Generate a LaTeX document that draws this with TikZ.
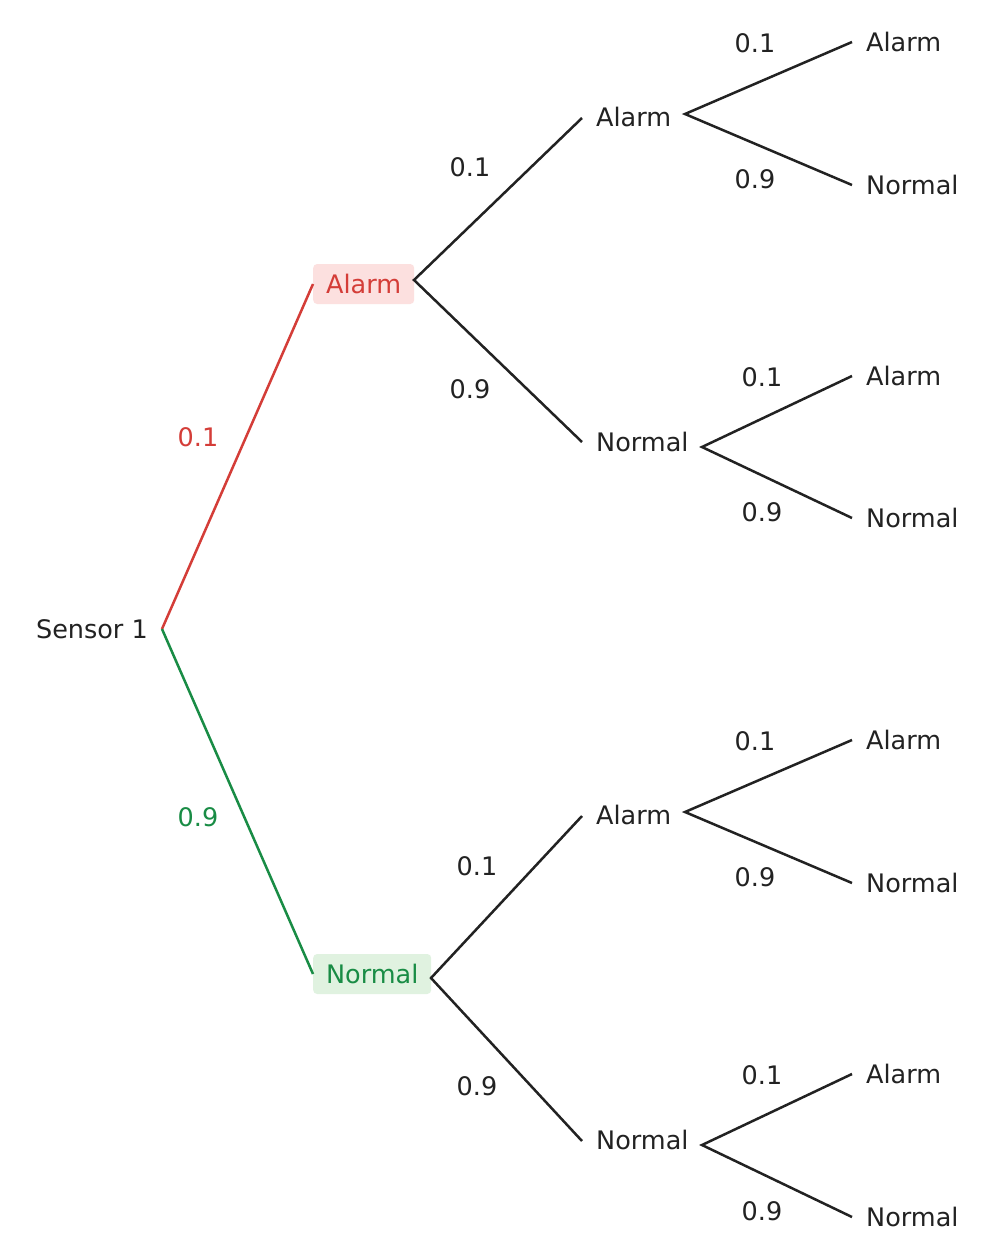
\documentclass[tikz,border=0pt]{standalone}
\usepackage{fontspec}
\setmainfont{DejaVu Sans}
\definecolor{ink}{HTML}{222222}
\definecolor{rd}{HTML}{D43D38}
\definecolor{gn}{HTML}{198C45}
\definecolor{rdf}{HTML}{FCE0DF}
\definecolor{gnf}{HTML}{E0F2E0}
\begin{document}
\begin{tikzpicture}[x=1pt,y=-1pt,
  every node/.style={font=\fontsize{25.5}{29}\selectfont, text=ink, inner sep=0pt},
  lbl/.style={anchor=west},
  prob/.style={anchor=center},
  edge/.style={draw=ink, line width=2.5pt}]
\useasboundingbox (0,0) rectangle (993,1259);
\fill[white] (0,0) rectangle (993,1259);
% root
\node[anchor=east] (s1) at (148,629) {Sensor 1};
\coordinate (r) at (162,629);
% level 1
\node[fill=rdf, rounded corners=4pt, minimum width=101pt, minimum height=40pt, text=rd, anchor=west] (A) at (313,284) {Alarm};
\node[fill=gnf, rounded corners=4pt, minimum width=118pt, minimum height=40pt, text=gn, anchor=west] (N) at (313,974) {Normal};
\draw[rd, line width=2.5pt] (r) -- (A.west);
\draw[gn, line width=2.5pt] (r) -- (N.west);
\node[prob, text=rd] (p1) at (198,437) {0.1};
\node[prob, text=gn] (p2) at (198,817) {0.9};
% level 2
\coordinate (aa) at (582,118); \coordinate (an) at (582,442);
\coordinate (na) at (582,816); \coordinate (nn) at (582,1141);
\coordinate (Ae) at (414,280); \coordinate (Ne) at (431,978);
\node[lbl] (AA) at (596,117) {Alarm};
\node[lbl] (AN) at (596,442) {Normal};
\node[lbl] (NA) at (596,815) {Alarm};
\node[lbl] (NN) at (596,1140) {Normal};
\draw[edge] (aa) -- (Ae) -- (an);
\draw[edge] (na) -- (Ne) -- (nn);
\node[prob] at (470,167) {0.1}; \node[prob] at (470,389) {0.9};
\node[prob] at (477,866) {0.1}; \node[prob] at (477,1086) {0.9};
% level 3
\foreach \n/\sx/\sy/\ya/\yb/\lx in {1/685/114/42/185/755, 2/702/447/376/518/762, 3/685/812/740/883/755, 4/702/1145/1074/1217/762}{
  \coordinate (s\n) at (\sx,\sy);
  \coordinate (ta\n) at (852,\ya);
  \coordinate (tb\n) at (852,\yb);
  \draw[edge] (ta\n) -- (s\n) -- (tb\n);
  \node[lbl] (la\n) at (866,\ya) {Alarm};
  \node[lbl] (lb\n) at (866,\yb) {Normal};
  \node[prob] at (\lx,\ya+1) {0.1};
  \node[prob] at (\lx,\yb-6) {0.9};
}
\end{tikzpicture}
\end{document}
